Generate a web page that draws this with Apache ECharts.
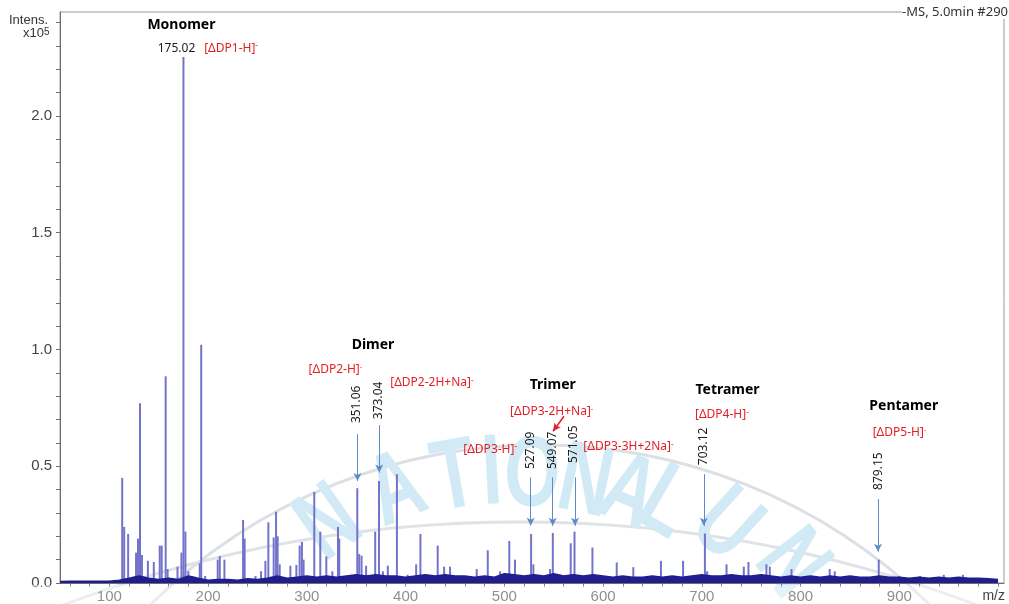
<!DOCTYPE html>
<html>
<head>
<meta charset="utf-8">
<script src="https://cdn.jsdelivr.net/npm/echarts@6/dist/echarts.min.js"></script>
<style>
html, body { margin: 0; padding: 0; background: #fff; }
#chart { width: 1009px; height: 604px; }
</style>
</head>
<body>
<div id="chart"></div>
<script>
// peaks (m/z, intensity x10^5)
var peakMz = [113, 115, 119, 127, 129, 131, 133, 139, 145, 151, 153, 157, 159, 169, 173, 175.02, 177, 180, 184, 191.5, 193, 197,
    209.7, 211.8, 216.5, 235.4, 237, 248, 253.6, 258, 261, 266.4, 268.8, 270.4, 272.5, 283.3, 289.4, 292.7, 295, 296.7,
    307.5, 313.6, 319.7, 325.8, 331.5, 332.8, 351.06, 353, 355.4, 360, 369.2, 373.04, 377, 382, 391.2, 402, 410.7, 415,
    432.5, 439, 445, 472, 483.2, 495.7, 505, 510.8, 527.09, 529.4, 546.3, 549.07, 567.2, 571.05, 589.2, 613.8, 630.6,
    658.6, 681, 703.12, 705.4, 725, 742.5, 747.2, 765.4, 768.8, 790.8, 829.5, 834.6, 879.15, 900, 921, 945, 964.4];
var peakInt = [0.45, 0.24, 0.21, 0.13, 0.19, 0.77, 0.12, 0.095, 0.09, 0.16, 0.16, 0.885, 0.06, 0.07, 0.13, 2.252, 0.22, 0.05, 0.03, 0.085, 1.02, 0.03,
    0.10, 0.115, 0.10, 0.27, 0.19, 0.03, 0.05, 0.095, 0.26, 0.195, 0.305, 0.20, 0.08, 0.074, 0.077, 0.16, 0.176, 0.10,
    0.39, 0.22, 0.114, 0.05, 0.24, 0.19, 0.406, 0.124, 0.117, 0.074, 0.22, 0.437, 0.05, 0.074, 0.466, 0.035, 0.08, 0.21,
    0.16, 0.07, 0.07, 0.06, 0.14, 0.05, 0.18, 0.10, 0.21, 0.08, 0.06, 0.214, 0.17, 0.22, 0.152, 0.088, 0.068,
    0.095, 0.095, 0.212, 0.05, 0.08, 0.07, 0.09, 0.08, 0.07, 0.06, 0.06, 0.05, 0.10, 0.03, 0.03, 0.035, 0.035];

// noise band along the baseline
var baseMz = [50, 60, 70, 80, 90, 100, 110, 120, 130, 140, 150, 160, 170, 180, 190, 200, 210, 220, 230, 240, 250, 260, 270, 280, 290,
    300, 310, 320, 330, 340, 350, 360, 370, 380, 390, 400, 410, 420, 430, 440, 450, 460, 470, 480, 490, 500, 510, 520, 530, 540,
    550, 560, 570, 580, 590, 600, 610, 620, 630, 640, 650, 660, 670, 680, 690, 700, 710, 720, 730, 740, 750, 760, 770, 780, 790,
    800, 810, 820, 830, 840, 850, 860, 870, 880, 890, 900, 910, 920, 930, 940, 950, 960, 970, 980, 990, 1000];
var baseInt = [0.006, 0.008, 0.007, 0.008, 0.007, 0.008, 0.012, 0.02, 0.03, 0.02, 0.015, 0.02, 0.015, 0.03, 0.02, 0.012, 0.015, 0.015, 0.012, 0.018, 0.015, 0.02, 0.03, 0.02, 0.025,
    0.03, 0.025, 0.03, 0.025, 0.03, 0.035, 0.03, 0.035, 0.03, 0.03, 0.025, 0.03, 0.035, 0.03, 0.035, 0.03, 0.03, 0.025, 0.03, 0.025, 0.04, 0.035, 0.03, 0.035, 0.03,
    0.04, 0.03, 0.035, 0.03, 0.035, 0.03, 0.025, 0.03, 0.025, 0.025, 0.03, 0.025, 0.03, 0.025, 0.03, 0.035, 0.03, 0.03, 0.035, 0.03, 0.03, 0.035, 0.03, 0.025, 0.03,
    0.025, 0.03, 0.025, 0.03, 0.025, 0.03, 0.025, 0.025, 0.03, 0.025, 0.025, 0.02, 0.025, 0.02, 0.025, 0.02, 0.025, 0.02, 0.02, 0.018, 0.015];

var xLabels = [100, 200, 300, 400, 500, 600, 700, 800, 900];
var xTicks = [60, 80, 100, 120, 140, 160, 180, 200, 220, 240, 260, 280, 300, 320, 340, 360, 380, 400, 420, 440, 460, 480, 500,
    520, 540, 560, 580, 600, 620, 640, 660, 680, 700, 720, 740, 760, 780, 800, 820, 840, 860, 880, 900, 920, 940, 960, 980, 1000];
var yLabels = [0, 0.5, 1.0, 1.5, 2.0];
var yTicks = [0, 0.1, 0.2, 0.3, 0.4, 0.5, 0.6, 0.7, 0.8, 0.9, 1.0, 1.1, 1.2, 1.3, 1.4, 1.5, 1.6, 1.7, 1.8, 1.9, 2.0, 2.1, 2.2, 2.3, 2.4];

// annotations
var titleText = ['Monomer', 'Dimer', 'Trimer', 'Tetramer', 'Pentamer'];
var titlePos = [[173, 2.389], [367, 1.021], [549, 0.846], [726, 0.825], [904.5, 0.756]];
var massText = ['351.06', '373.04', '527.09', '549.07', '571.05', '703.12', '879.15'];
var massPos = [[350, 0.765], [372.3, 0.782], [527, 0.568], [548.8, 0.568], [570.6, 0.594], [701.6, 0.585], [878.6, 0.479]];
var ionText = ['[ΔDP2-H]', '[ΔDP3-H]', '[ΔDP3-2H+Na]'];
var ionPos = [[329, 0.915], [485.6, 0.573], [548, 0.735]];
var ionLeftText = ['[ΔDP1-H]', '[ΔDP2-2H+Na]', '[ΔDP3-3H+2Na]', '[ΔDP4-H]', '[ΔDP5-H]'];
var ionLeftPos = [[196, 2.29], [384.4, 0.859], [580, 0.585], [693, 0.722], [873, 0.645]];
var arrowFrom = [[351.3, 0.637], [373.3, 0.676], [526.7, 0.452], [549, 0.452], [571.6, 0.452], [702, 0.466], [878.4, 0.359]];
var arrowTo = [[351.3, 0.437], [373.3, 0.473], [526.7, 0.245], [549, 0.245], [571.6, 0.245], [702, 0.245], [878.4, 0.134]];
var redArrow = [[560.4, 0.714], [549.3, 0.65]];

// faint watermark behind the plot
var wmLetters = ['N', 'A', 'T', 'I', 'O', 'N', 'A', 'L', 'U', 'N'];
var wmPos = [[330, 525], [397, 492], [455, 480], [492, 476], [532, 478], [585, 485], [628, 495], [665, 505], [725, 527], [790, 565]];
var wmRot = [35, 22, 10, 3, -3, -12, -22, -30, -42, -52];

var chart = echarts.init(document.getElementById('chart'));

var peakData = [];
for (var i = 0; i < peakMz.length; i++) {
    peakData.push([peakMz[i], peakInt[i]]);
}
var baseData = [];
for (var i = 0; i < baseMz.length; i++) {
    baseData.push([baseMz[i], baseInt[i]]);
}

var annoFont = '"Noto Sans", sans-serif';
var red = '#e41e24';
var supRich = {
    s: { fontSize: 8, color: red, verticalAlign: 'top', lineHeight: 10, fontFamily: annoFont }
};
var annoData = [];
for (var i = 0; i < titleText.length; i++) {
    annoData.push({
        value: titlePos[i],
        label: { formatter: titleText[i], fontWeight: 'bold', fontSize: 14, color: '#000', align: 'center' }
    });
}
annoData.push({
    value: [168, 2.29],
    label: { formatter: '175.02', fontSize: 12, color: '#1a1a1a', align: 'center' }
});
for (var i = 0; i < massText.length; i++) {
    annoData.push({
        value: massPos[i],
        label: { formatter: massText[i], fontSize: 12, color: '#1a1a1a', align: 'center', rotate: 90 }
    });
}
for (var i = 0; i < ionText.length; i++) {
    annoData.push({
        value: ionPos[i],
        label: { formatter: ionText[i] + '{s|-}', fontSize: 12, color: red, align: 'center', rich: supRich }
    });
}
for (var i = 0; i < ionLeftText.length; i++) {
    annoData.push({
        value: ionLeftPos[i],
        label: { formatter: ionLeftText[i] + '{s|-}', fontSize: 12, color: red, align: 'left', rich: supRich }
    });
}

var arrowLines = [];
for (var i = 0; i < arrowFrom.length; i++) {
    arrowLines.push([{ coord: arrowFrom[i] }, { coord: arrowTo[i] }]);
}
arrowLines.push([
    { coord: redArrow[0], lineStyle: { color: red, width: 1.5 } },
    { coord: redArrow[1], lineStyle: { color: red, width: 1.5 } }
]);

var axisFont = '"Liberation Sans", Arial, sans-serif';

var graphics = [
    { type: 'circle', z: 0, silent: true, shape: { cx: 540, cy: 1000, r: 555 }, style: { fill: 'none', stroke: '#dcdfe3', lineWidth: 3 } },
    { type: 'circle', z: 0, silent: true, shape: { cx: 520, cy: 1822, r: 1300 }, style: { fill: 'none', stroke: '#e0e3e6', lineWidth: 3 } }
];
for (var i = 0; i < wmLetters.length; i++) {
    graphics.push({
        type: 'text', z: 0, silent: true,
        x: wmPos[i][0], y: wmPos[i][1],
        rotation: wmRot[i] * Math.PI / 180,
        scaleX: 0.72,
        style: {
            text: wmLetters[i], font: 'bold 100px "Liberation Sans", Arial, sans-serif',
            fill: '#d2eaf5', align: 'center', verticalAlign: 'middle'
        }
    });
}
graphics.push(
    { type: 'rect', z: 1, silent: true, shape: { x: 0, y: 585, width: 1009, height: 19 }, style: { fill: 'rgba(255,255,255,0.4)' } },
    { type: 'text', left: 9, top: 14, z: 5, style: { text: 'Intens.', font: '13px ' + axisFont, fill: '#333' } },
    {
        type: 'text', left: 23, top: 27, z: 5,
        style: {
            text: 'x10{s|5}', font: '13px ' + axisFont, fill: '#333',
            rich: { s: { fontSize: 10, verticalAlign: 'top', lineHeight: 10, fontFamily: axisFont, fill: '#333' } }
        }
    },
    {
        type: 'text', right: 1, top: 6, z: 10,
        style: { text: '-MS, 5.0min #290', font: '13px ' + annoFont, fill: '#333', backgroundColor: '#fff' }
    },
    { type: 'text', right: 4, top: 589, z: 5, style: { text: 'm/z', font: '14px ' + axisFont, fill: '#444' } }
);

var option = {
    animation: false,
    textStyle: { fontFamily: annoFont },
    grid: {
        left: 60,
        right: 5,
        top: 12,
        bottom: 20,
        show: true,
        borderColor: '#9a9a9a',
        borderWidth: 1
    },
    xAxis: {
        type: 'value',
        min: 50,
        max: 1006,
        splitLine: { show: false },
        axisLine: { onZero: false, lineStyle: { color: '#6e6e6e' } },
        axisTick: { customValues: xTicks, length: 4, lineStyle: { color: '#6e6e6e' } },
        axisLabel: { customValues: xLabels, fontSize: 15, color: '#444', margin: 6, fontFamily: axisFont }
    },
    yAxis: {
        type: 'value',
        min: 0,
        max: 2.445,
        splitLine: { show: false },
        axisLine: { show: true, lineStyle: { color: '#6e6e6e' } },
        axisTick: { show: true, customValues: yTicks, length: 4, lineStyle: { color: '#6e6e6e' } },
        axisLabel: {
            customValues: yLabels,
            fontSize: 15,
            color: '#444',
            margin: 8,
            fontFamily: axisFont,
            formatter: function (v) { return v.toFixed(1); }
        }
    },
    graphic: graphics,
    series: [
        {
            name: 'baseline',
            type: 'line',
            data: baseData,
            symbol: 'none',
            lineStyle: { color: '#1e1e8c', width: 1.5 },
            areaStyle: { color: '#1e1e8c', opacity: 1 },
            z: 3
        },
        {
            name: 'peaks',
            type: 'bar',
            data: peakData,
            barWidth: 2,
            itemStyle: { color: '#7373cc' },
            z: 2
        },
        {
            name: 'arrows',
            type: 'scatter',
            data: [],
            markLine: {
                silent: true,
                symbol: ['none', 'arrow'],
                symbolSize: [6, 8],
                label: { show: false },
                lineStyle: { color: '#5b8cc8', width: 1, type: 'solid' },
                data: arrowLines
            },
            z: 4
        },
        {
            name: 'labels',
            type: 'scatter',
            symbolSize: 0,
            itemStyle: { opacity: 1 },
            data: annoData,
            label: {
                show: true,
                position: 'inside',
                verticalAlign: 'middle',
                opacity: 1,
                fontFamily: annoFont
            },
            z: 5
        }
    ]
};
chart.setOption(option);
</script>
</body>
</html>
